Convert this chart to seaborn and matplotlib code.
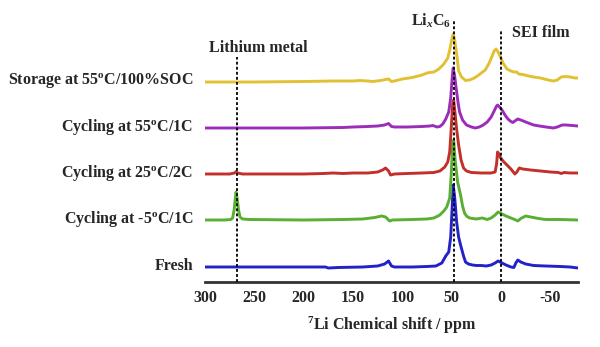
import numpy as np
import pandas as pd
import matplotlib
matplotlib.use("Agg")
import matplotlib.pyplot as plt
import matplotlib.transforms as mtransforms
import seaborn as sns

# ---------------- data ----------------
labels = ["Fresh", "Cycling at -5$^{\\rm o}$C/1C", "Cycling at 25$^{\\rm o}$C/2C",
          "Cycling at 55$^{\\rm o}$C/1C", "Storage at 55$^{\\rm o}$C/100%SOC"]
colors = ["#2222C8", "#5AAF32", "#C2302B", "#9B2DBA", "#E2C034"]
offsets = [15, 62, 108, 154, 200]   # vertical stacking of the traces

fresh_ppm = [300, 250, 200, 178, 175, 165, 140, 125, 118, 114, 111, 108, 90, 75, 66, 60, 56, 53, 51,
             49.5, 48.5, 47, 45, 43, 41, 38, 36, 33, 29, 25, 20, 15, 10, 6, 3, 0, -5, -10, -13, -15,
             -17, -20, -25, -33, -45, -60, -70, -78]
fresh_int = [0, 0, 0, 0, -1, -0.5, 0, 1, 3, 6, 1, 0, 0, 0.5, 1, 4, 11, 15, 30,
             60, 82, 70, 45, 30, 22, 11, 5, 3, 2, 1.5, 1.5, 1, 2, 4, 6, 4.5, 2, 0, -0.5, 4,
             7, 5, 3, 1.5, 1, 0.5, 0, -1]

cold_ppm = [300, 280, 274, 272, 270.5, 269, 268.5, 267.5, 266, 264.5, 262, 255, 200, 160, 140, 128,
            121, 117, 113, 110, 90, 75, 68, 62, 58, 55, 52, 50.5, 49, 48, 46.5, 44, 41, 39, 37, 35,
            32, 25, 19, 14, 10, 6, 3, 0, -5, -10, -15, -17, -20, -25, -30, -38, -45, -60, -78]
cold_int = [0, 0, 0.5, 2, 10, 24, 28, 22, 10, 3, 1, 0.5, 0, 0.5, 1, 2.5,
            4, 3, -1, 0, 0.5, 1, 2, 5, 9, 13, 22, 45, 75, 80, 60, 38, 25, 14, 7, 4,
            2, 1, 2, 0.5, 2, 5, 8, 6.5, 4, 2, 0, -1, 1.5, 4, 3, 1.5, 0.5, 0.5, 0]

c25_ppm = [300, 275, 270, 268.5, 267, 262, 230, 200, 180, 170, 160, 150, 135, 125, 120, 117, 114, 112,
           108, 95, 80, 68, 62, 57, 54, 52, 50.5, 49, 48, 46.5, 45, 43, 40.5, 38, 35, 30, 20, 10, 6,
           4.5, 3.5, 2, 1, -2, -6, -10, -14, -16, -18.5, -22, -30, -40, -50, -58, -61, -64, -70, -78]
c25_int = [0, 0, 1, 2.5, 1, 0, 0, 0, 0.5, 1, 0.5, 1, 1, 2, 4, 6, 3, -1,
           0, 0.5, 1, 1.5, 3, 7, 12, 22, 45, 70, 74, 60, 45, 29, 14, 6, 3, 1.5, 1, 1, 2,
           10, 22, 20, 17, 13, 9, 5, 0, 2, 6, 5, 4, 3, 2, 1.5, 0.5, 1.5, 1, 1]

c55_ppm = [300, 250, 200, 160, 150, 135, 125, 118, 114, 111, 108, 95, 80, 72, 69, 65, 62, 59, 56, 53,
           51, 49.5, 48.5, 47, 45.5, 43.5, 42, 39, 35, 30, 26, 22, 18, 14, 10, 7, 4.5, 3.5, 1.5, -1,
           -4, -7, -10, -12, -14, -17, -20, -25, -33, -42, -53, -57, -62, -66, -72, -78]
c55_int = [0, 0, 0, 0.5, 1, 1.5, 2, 3, 4.5, 1.5, 1, 1, 1.5, 2, 2.5, 1, 1.5, 4, 9, 16,
           30, 50, 60, 52, 40, 25, 16, 8, 3, 1, 0, 1, 3, 6, 11, 17, 22, 23, 21, 18,
           13, 9, 6.5, 5.5, 7, 9, 8, 6, 3, 1.5, 0, 1, 3, 3, 2.5, 2]

stor_ppm = [300, 250, 200, 170, 150, 143, 135, 130, 122, 117, 114, 111, 108, 100, 90, 80, 75, 72,
            68, 63, 58, 54, 52, 50, 48.5, 47, 45.5, 44, 43, 40, 36, 32, 28, 24, 20, 16, 12, 9, 7, 5,
            3, 1, -2, -6, -10, -13, -16, -18, -22, -28, -33, -40, -48, -53, -57, -61, -65, -70, -75, -78]
stor_int = [0, 0, 0.5, 1, 1, 1.5, 1, 0.5, 1.5, 2.5, 3, 0.5, 1, 3, 4.5, 7, 9, 9.5,
            10, 13, 18, 24, 32, 42, 48, 42, 32, 20, 11, 5, 1.5, 2, 3.5, 6, 9, 12, 19, 26, 31, 33,
            30, 26, 19, 13, 11, 10, 10, 8, 7.5, 6, 5, 4, 2, 1, 2, 5, 5.5, 5, 4, 4]

series_ppm = [fresh_ppm, cold_ppm, c25_ppm, c55_ppm, stor_ppm]
series_int = [fresh_int, cold_int, c25_int, c55_int, stor_int]

marker_ppm = [268, 48, 0]
marker_text = ["Lithium metal", "Li$_{x}$C$_{6}$", "SEI film"]
xticks = [300, 250, 200, 150, 100, 50, 0, -50]

# ---------------- style ----------------
sns.set_theme(style="white")
plt.rcParams["font.family"] = ["Liberation Serif", "DejaVu Serif"]
plt.rcParams["font.weight"] = "bold"
plt.rcParams["mathtext.fontset"] = "custom"
plt.rcParams["mathtext.rm"] = "Liberation Serif:bold"
plt.rcParams["mathtext.bf"] = "Liberation Serif:bold"
plt.rcParams["mathtext.it"] = "Liberation Serif:italic:bold"

fig = plt.figure(figsize=(6.0, 3.47), dpi=100)
ax = fig.add_axes([205 / 600, 65 / 347, 373 / 600, 282 / 347])

rows = []
for i, (p, v) in enumerate(zip(series_ppm, series_int)):
    for a, b in zip(p, v):
        rows.append({"ppm": a, "y": b + offsets[i], "s": i})
df = pd.DataFrame(rows)

for i in range(len(labels)):
    sub = df[df["s"] == i]
    sns.lineplot(data=sub, x="ppm", y="y", sort=False, estimator=None,
                 color=colors[i], lw=2.1, ax=ax, zorder=2 + i)

ax.set_xlim(300, -78)
ax.set_ylim(0, 282)

# dashed reference lines and their captions
tops = [225, 262, 252]
for p, t in zip(marker_ppm, tops):
    ax.plot([p, p], [0, t], color="black", lw=1.3, ls=(0, (1.6, 1.2)), zorder=10)
ax.text(246, 234, marker_text[0], ha="center", va="center", fontsize=11.5, fontweight="bold")
ax.text(71, 261, marker_text[1], ha="center", va="center", fontsize=11.5, fontweight="bold")
ax.text(-40, 249, marker_text[2], ha="center", va="center", fontsize=11.5, fontweight="bold")

# trace labels to the left of the axes
trans = mtransforms.blended_transform_factory(ax.transAxes, ax.transData)
for i, lab in enumerate(labels):
    ax.text(-0.032, offsets[i] + 1, lab, transform=trans, ha="right", va="center",
            fontsize=11.5, fontweight="bold", clip_on=False)

for s in ["top", "left", "right"]:
    ax.spines[s].set_visible(False)
ax.spines["bottom"].set_linewidth(2.0)
ax.spines["bottom"].set_color("#333333")
ax.set_xticks(xticks)
ax.set_xticklabels([str(t) for t in xticks])
ax.tick_params(axis="x", direction="in", length=4, width=1.3, color="#333333",
               pad=6, labelsize=11.5)
for lbl in ax.get_xticklabels():
    lbl.set_fontweight("bold")
ax.set_yticks([])
ax.set_ylabel("")
ax.set_xlabel("$^{7}$Li Chemical shift / ppm", fontsize=11.5, fontweight="bold", labelpad=6)

fig.savefig("out.png", dpi=100)
